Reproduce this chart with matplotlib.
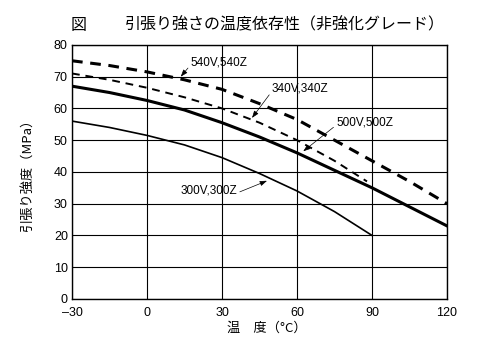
import matplotlib.pyplot as plt

plt.rcParams['font.family'] = ['Liberation Sans', 'Noto Sans CJK JP', 'DejaVu Sans']

# Data (temperature in °C, tensile strength in MPa)
temp_540 = [-30, -15, 0, 15, 30, 45, 60, 75, 90, 105, 120]
str_540 = [75, 73.5, 71.5, 69, 66, 61.5, 56.5, 50, 43.5, 37, 30]

temp_340 = [-30, -15, 0, 15, 30, 45, 60, 75, 88]
str_340 = [71, 69, 66.5, 63.5, 60, 55.5, 50, 43.5, 37]

temp_500 = [-30, -15, 0, 15, 30, 45, 60, 75, 90, 105, 120]
str_500 = [67, 65, 62.5, 59.5, 55.5, 51, 46, 40.5, 35, 29, 23]

temp_300 = [-30, -15, 0, 15, 30, 45, 60, 75, 90]
str_300 = [56, 54, 51.5, 48.5, 44.5, 39.5, 34, 27.5, 20]

xticks = [-30, 0, 30, 60, 90, 120]
xticklabels = ['\u201330', '0', '30', '60', '90', '120']
yticks = [0, 10, 20, 30, 40, 50, 60, 70, 80]

fig = plt.figure(figsize=(5, 3.48), dpi=100)
ax = fig.add_axes([0.144, 0.141, 0.750, 0.730])

ax.plot(temp_540, str_540, color='black', lw=2.2, ls=(0, (3.5, 2.5)))
ax.plot(temp_340, str_340, color='black', lw=1.4, ls=(0, (4, 3)))
ax.plot(temp_500, str_500, color='black', lw=2.2)
ax.plot(temp_300, str_300, color='black', lw=1.2)

ax.set_xlim(-30, 120)
ax.set_ylim(0, 80)
ax.set_xticks(xticks)
ax.set_xticklabels(xticklabels)
ax.set_yticks(yticks)
ax.tick_params(length=0, labelsize=9)
ax.tick_params(axis='x', pad=6)
ax.tick_params(axis='y', pad=3)
ax.grid(True, color='black', lw=0.8)
for s in ax.spines.values():
    s.set_linewidth(1.0)


def arrow(rel):
    return dict(arrowstyle='-|>,head_length=0.5,head_width=0.18', color='black',
                lw=0.5, shrinkA=0, shrinkB=0, relpos=rel)


ax.annotate('540V,540Z', xy=(13.5, 70.0), xytext=(17.5, 74.5), fontsize=8.5,
            ha='left', va='center', arrowprops=arrow((0, 0.3)))
ax.annotate('340V,340Z', xy=(42, 57.0), xytext=(50, 66.2), fontsize=8.5,
            ha='left', va='center', arrowprops=arrow((0, 0.3)))
ax.annotate('500V,500Z', xy=(62.5, 46.5), xytext=(75.7, 55.5), fontsize=8.5,
            ha='left', va='center', arrowprops=arrow((0, 0.3)))
ax.annotate('300V,300Z', xy=(48, 37.2), xytext=(13.3, 34.1), fontsize=8.5,
            ha='left', va='center', arrowprops=arrow((1.05, 0.4)))

fig.text(0.142, 0.928, '図', fontsize=11.5, family=['Noto Sans CJK JP'],
         ha='left', va='center')
fig.text(0.57, 0.928, '引張り強さの温度依存性（非強化グレード）', fontsize=11.5,
         family=['Noto Sans CJK JP'], ha='center', va='center')
fig.text(0.054, 0.506, '引張り強度（MPa）', fontsize=9.5, rotation=90,
         family=['Noto Sans CJK JP', 'DejaVu Sans'], ha='center', va='center')
fig.text(0.534, 0.057, '温　度（°C）', fontsize=9.5,
         family=['Noto Sans CJK JP', 'DejaVu Sans'], ha='center', va='center')

fig.savefig('out.png', dpi=100)
